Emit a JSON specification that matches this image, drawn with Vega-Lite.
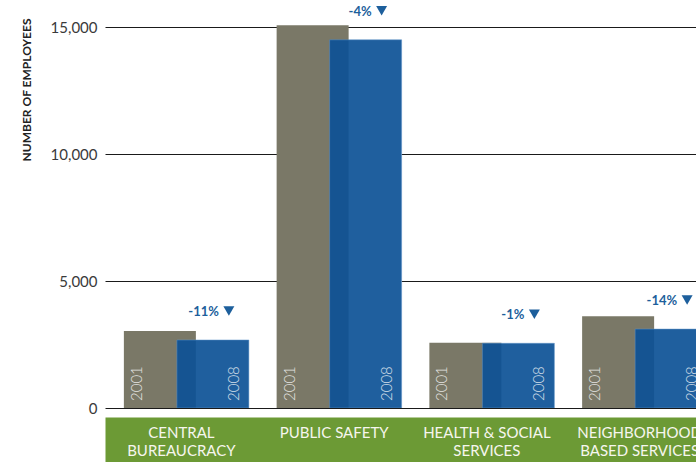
{
  "$schema": "https://vega.github.io/schema/vega-lite/v6.json",
  "width": 591,
  "height": 406,
  "autosize": {"type": "none"},
  "padding": {"left": 105, "top": 2, "right": 0, "bottom": 54},
  "config": {"view": {"stroke": null}, "font": "Lato"},
  "data": {
    "values": [
      {"category": "CENTRAL|BUREAUCRACY", "year": "2001", "employees": 3030, "change": ""},
      {"category": "CENTRAL|BUREAUCRACY", "year": "2008", "employees": 2680, "change": "-11%"},
      {"category": "PUBLIC SAFETY", "year": "2001", "employees": 15080, "change": ""},
      {"category": "PUBLIC SAFETY", "year": "2008", "employees": 14510, "change": "-4%"},
      {"category": "HEALTH & SOCIAL|SERVICES", "year": "2001", "employees": 2570, "change": ""},
      {"category": "HEALTH & SOCIAL|SERVICES", "year": "2008", "employees": 2550, "change": "-1%"},
      {"category": "NEIGHBORHOOD|BASED SERVICES", "year": "2001", "employees": 3620, "change": ""},
      {"category": "NEIGHBORHOOD|BASED SERVICES", "year": "2008", "employees": 3110, "change": "-14%"}
    ]
  },
  "resolve": {"axis": {"x": "independent"}},
  "layer": [
    {
      "transform": [{"filter": "datum.year == '2008'"}],
      "mark": {"type": "bar", "width": 72, "xOffset": 31.5, "color": "#ffffff", "clip": true},
      "encoding": {
        "x": {
          "field": "category",
          "type": "nominal",
          "sort": null,
          "scale": {"range": [0, 611], "paddingInner": 0, "paddingOuter": 0},
          "axis": {
            "title": null,
            "orient": "bottom",
            "domainColor": "#6c9a35",
            "domainWidth": 45,
            "offset": 31.5,
            "ticks": false,
            "labels": false,
            "grid": false,
            "zindex": 1
          }
        },
        "y": {
          "field": "employees",
          "type": "quantitative",
          "scale": {"domain": [0, 16000], "nice": false},
          "axis": {
            "values": [0, 5000, 10000, 15000],
            "labelExpr": "format(datum.value, ',')",
            "domain": false,
            "ticks": false,
            "grid": true,
            "gridColor": "#1a1a1a",
            "gridWidth": 1,
            "gridOpacity": 1,
            "labelFontSize": 15,
            "labelColor": "#3a3a3a",
            "labelPadding": 8,
            "title": "NUMBER OF EMPLOYEES",
            "titleFontSize": 12,
            "titleFontWeight": "bold",
            "titleColor": "#222222",
            "titleAngle": -90,
            "titleAlign": "right",
            "titleBaseline": "middle",
            "titleX": -79,
            "titleY": 16
          }
        }
      }
    },
    {
      "transform": [{"filter": "datum.year == '2001'"}],
      "mark": {"type": "bar", "width": 72, "xOffset": -21.5, "color": "#7a7867", "clip": true},
      "encoding": {
        "x": {"field": "category", "type": "nominal", "sort": null, "axis": null},
        "y": {"field": "employees", "type": "quantitative"}
      }
    },
    {
      "transform": [{"filter": "datum.year == '2008'"}],
      "mark": {"type": "bar", "width": 72, "xOffset": 31.5, "color": "#0c5196", "fillOpacity": 0.92, "stroke": "#5f94c9", "strokeWidth": 1, "strokeOpacity": 0.5, "clip": true},
      "encoding": {
        "x": {"field": "category", "type": "nominal", "sort": null, "axis": null},
        "y": {"field": "employees", "type": "quantitative"}
      }
    },
    {
      "transform": [{"filter": "datum.year == '2001'"}],
      "mark": {"type": "text", "angle": 270, "align": "left", "baseline": "middle", "xOffset": -44.4, "yOffset": -7, "fontSize": 15, "fontWeight": 300, "color": "#ffffff", "opacity": 0.8, "clip": true},
      "encoding": {
        "x": {"field": "category", "type": "nominal", "sort": null, "axis": null},
        "y": {"datum": 0, "type": "quantitative"},
        "text": {"field": "year"}
      }
    },
    {
      "transform": [{"filter": "datum.year == '2008'"}],
      "mark": {"type": "text", "angle": 270, "align": "left", "baseline": "middle", "xOffset": 52.6, "yOffset": -7, "fontSize": 15, "fontWeight": 300, "color": "#ffffff", "opacity": 0.8, "clip": true},
      "encoding": {
        "x": {"field": "category", "type": "nominal", "sort": null, "axis": null},
        "y": {"datum": 0, "type": "quantitative"},
        "text": {"field": "year"}
      }
    },
    {
      "transform": [{"filter": "datum.year == '2008'"}],
      "mark": {"type": "point", "shape": "triangle-down", "filled": true, "size": 120, "opacity": 1, "color": "#1d5f9c", "xOffset": 47.5, "yOffset": -29, "clip": true},
      "encoding": {
        "x": {"field": "category", "type": "nominal", "sort": null, "axis": null},
        "y": {"field": "employees", "type": "quantitative"}
      }
    },
    {
      "transform": [{"filter": "datum.year == '2008'"}],
      "mark": {"type": "text", "align": "right", "baseline": "middle", "xOffset": 37.5, "yOffset": -28, "fontSize": 13, "fontWeight": "bold", "color": "#1d5f9c", "clip": true},
      "encoding": {
        "x": {
          "field": "category",
          "type": "nominal",
          "sort": null,
          "axis": {
            "title": null,
            "orient": "bottom",
            "domain": false,
            "ticks": false,
            "grid": false,
            "offset": 31.5,
            "zindex": 2,
            "labelAngle": 0,
            "labelAlign": "center",
            "labelBaseline": "top",
            "labelColor": "#f6f6ee",
            "labelFontSize": 15,
            "labelPadding": -14,
            "labelLineHeight": 17.5,
            "labelOverlap": false,
            "labelExpr": "split(datum.label, '|')"
          }
        },
        "y": {"field": "employees", "type": "quantitative"},
        "text": {"field": "change"}
      }
    }
  ]
}
